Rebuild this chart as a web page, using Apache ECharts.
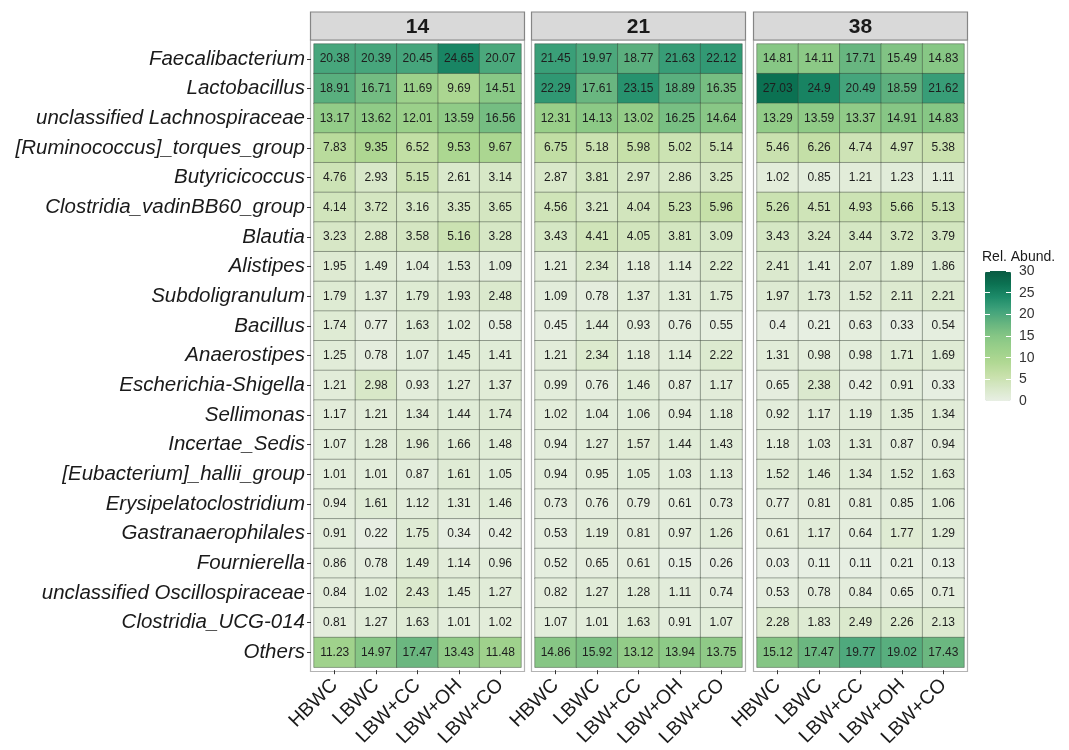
<!DOCTYPE html>
<html>
<head>
<meta charset="utf-8">
<script src="https://cdn.jsdelivr.net/npm/echarts@6/dist/echarts.min.js"></script>
<style>
  html, body { margin: 0; padding: 0; background: #fff; }
  #chart { width: 1069px; height: 750px; }
</style>
</head>
<body>
<div id="chart"></div>
<script>
const taxa = ['Faecalibacterium', 'Lactobacillus', 'unclassified Lachnospiraceae', '[Ruminococcus]_torques_group',
  'Butyricicoccus', 'Clostridia_vadinBB60_group', 'Blautia', 'Alistipes', 'Subdoligranulum', 'Bacillus',
  'Anaerostipes', 'Escherichia-Shigella', 'Sellimonas', 'Incertae_Sedis', '[Eubacterium]_hallii_group',
  'Erysipelatoclostridium', 'Gastranaerophilales', 'Fournierella', 'unclassified Oscillospiraceae',
  'Clostridia_UCG-014', 'Others'];
const groups = ['HBWC', 'LBWC', 'LBW+CC', 'LBW+OH', 'LBW+CO'];
const days = ['14', '21', '38'];
const legendTicks = [0, 5, 10, 15, 20, 25, 30];

// rows follow taxa, columns follow groups
const day14 = [
  [20.38, 20.39, 20.45, 24.65, 20.07],
  [18.91, 16.71, 11.69, 9.69, 14.51],
  [13.17, 13.62, 12.01, 13.59, 16.56],
  [7.83, 9.35, 6.52, 9.53, 9.67],
  [4.76, 2.93, 5.15, 2.61, 3.14],
  [4.14, 3.72, 3.16, 3.35, 3.65],
  [3.23, 2.88, 3.58, 5.16, 3.28],
  [1.95, 1.49, 1.04, 1.53, 1.09],
  [1.79, 1.37, 1.79, 1.93, 2.48],
  [1.74, 0.77, 1.63, 1.02, 0.58],
  [1.25, 0.78, 1.07, 1.45, 1.41],
  [1.21, 2.98, 0.93, 1.27, 1.37],
  [1.17, 1.21, 1.34, 1.44, 1.74],
  [1.07, 1.28, 1.96, 1.66, 1.48],
  [1.01, 1.01, 0.87, 1.61, 1.05],
  [0.94, 1.61, 1.12, 1.31, 1.46],
  [0.91, 0.22, 1.75, 0.34, 0.42],
  [0.86, 0.78, 1.49, 1.14, 0.96],
  [0.84, 1.02, 2.43, 1.45, 1.27],
  [0.81, 1.27, 1.63, 1.01, 1.02],
  [11.23, 14.97, 17.47, 13.43, 11.48]
];
const day21 = [
  [21.45, 19.97, 18.77, 21.63, 22.12],
  [22.29, 17.61, 23.15, 18.89, 16.35],
  [12.31, 14.13, 13.02, 16.25, 14.64],
  [6.75, 5.18, 5.98, 5.02, 5.14],
  [2.87, 3.81, 2.97, 2.86, 3.25],
  [4.56, 3.21, 4.04, 5.23, 5.96],
  [3.43, 4.41, 4.05, 3.81, 3.09],
  [1.21, 2.34, 1.18, 1.14, 2.22],
  [1.09, 0.78, 1.37, 1.31, 1.75],
  [0.45, 1.44, 0.93, 0.76, 0.55],
  [1.21, 2.34, 1.18, 1.14, 2.22],
  [0.99, 0.76, 1.46, 0.87, 1.17],
  [1.02, 1.04, 1.06, 0.94, 1.18],
  [0.94, 1.27, 1.57, 1.44, 1.43],
  [0.94, 0.95, 1.05, 1.03, 1.13],
  [0.73, 0.76, 0.79, 0.61, 0.73],
  [0.53, 1.19, 0.81, 0.97, 1.26],
  [0.52, 0.65, 0.61, 0.15, 0.26],
  [0.82, 1.27, 1.28, 1.11, 0.74],
  [1.07, 1.01, 1.63, 0.91, 1.07],
  [14.86, 15.92, 13.12, 13.94, 13.75]
];
const day38 = [
  [14.81, 14.11, 17.71, 15.49, 14.83],
  [27.03, 24.9, 20.49, 18.59, 21.62],
  [13.29, 13.59, 13.37, 14.91, 14.83],
  [5.46, 6.26, 4.74, 4.97, 5.38],
  [1.02, 0.85, 1.21, 1.23, 1.11],
  [5.26, 4.51, 4.93, 5.66, 5.13],
  [3.43, 3.24, 3.44, 3.72, 3.79],
  [2.41, 1.41, 2.07, 1.89, 1.86],
  [1.97, 1.73, 1.52, 2.11, 2.21],
  [0.4, 0.21, 0.63, 0.33, 0.54],
  [1.31, 0.98, 0.98, 1.71, 1.69],
  [0.65, 2.38, 0.42, 0.91, 0.33],
  [0.92, 1.17, 1.19, 1.35, 1.34],
  [1.18, 1.03, 1.31, 0.87, 0.94],
  [1.52, 1.46, 1.34, 1.52, 1.63],
  [0.77, 0.81, 0.81, 0.85, 1.06],
  [0.61, 1.17, 0.64, 1.77, 1.29],
  [0.03, 0.11, 0.11, 0.21, 0.13],
  [0.53, 0.78, 0.84, 0.65, 0.71],
  [2.28, 1.83, 2.49, 2.26, 2.13],
  [15.12, 17.47, 19.77, 19.02, 17.43]
];
const panels = [day14, day21, day38];

const FONT = '"Liberation Sans", Arial, sans-serif';
const panelLeft = [314, 535, 757];
const panelW = 207, plotTop = 44, plotH = 624, pad = 3;
const stripTop = 12, stripH = 28;
const bar = { left: 985, top: 271, width: 26, height: 130 };

const grids = panelLeft.map((l) => ({ left: l, top: plotTop, width: panelW, height: plotH }));
grids.push({ left: bar.left, top: bar.top, width: bar.width, height: bar.height });

const xAxes = panels.map((_, i) => ({
  type: 'category', gridIndex: i, data: groups, offset: pad,
  axisLine: { show: false },
  axisTick: { show: true, length: 4, alignWithLabel: true, lineStyle: { color: '#333' } },
  axisLabel: { rotate: 45, fontSize: 19.5, color: '#1a1a1a', fontFamily: FONT, margin: 12, interval: 0 },
  splitLine: { show: false }
}));
xAxes.push({ type: 'category', gridIndex: 3, show: false, data: ['a'] });

const yAxes = panels.map((_, i) => ({
  type: 'category', gridIndex: i, data: taxa, inverse: true, offset: pad,
  axisLine: { show: false },
  axisTick: { show: i === 0, length: 4, alignWithLabel: true, lineStyle: { color: '#333' } },
  axisLabel: { show: i === 0, fontSize: 20.5, fontStyle: 'italic', color: '#1a1a1a', fontFamily: FONT, margin: 6, interval: 0 },
  splitLine: { show: false }
}));
// colourbar scale
yAxes.push({
  type: 'value', gridIndex: 3, min: 0, max: 30, interval: 5, position: 'right', z: 10,
  axisLine: { show: false },
  axisTick: { show: true, inside: true, length: 5, lineStyle: { color: '#fff', width: 1 } },
  axisLabel: { fontSize: 14, color: '#333', fontFamily: FONT, margin: 8,
    formatter: (v) => (legendTicks.includes(v) ? String(v) : '') },
  splitLine: { show: false }
});
yAxes.push({
  type: 'value', gridIndex: 3, min: 0, max: 30, interval: 5, position: 'left', z: 10,
  axisLine: { show: false },
  axisTick: { show: true, inside: true, length: 5, lineStyle: { color: '#fff', width: 1 } },
  axisLabel: { show: false },
  splitLine: { show: false }
});

const series = panels.map((rows, i) => ({
  type: 'heatmap', xAxisIndex: i, yAxisIndex: i,
  data: rows.flatMap((r, yi) => r.map((v, xi) => [xi, yi, v])),
  itemStyle: { borderColor: 'rgba(50,60,50,0.6)', borderWidth: 0.7 },
  label: { show: true, fontSize: 12, color: '#1e1e1e', fontFamily: FONT, formatter: (p) => String(p.value[2]) },
  emphasis: { disabled: true }
}));

const graphic = [];
panelLeft.forEach((l, i) => {
  graphic.push({
    type: 'rect', z: -1, silent: true,
    shape: { x: l - pad - 0.5, y: stripTop + stripH, width: panelW + 2 * pad + 1, height: plotH + plotTop - stripTop - stripH + pad + 0.5 },
    style: { fill: '#fff', stroke: '#b3b3b3', lineWidth: 1.2 }
  });
  graphic.push({
    type: 'rect', silent: true,
    shape: { x: l - pad - 0.5, y: stripTop, width: panelW + 2 * pad + 1, height: stripH },
    style: { fill: '#d9d9d9', stroke: '#858585', lineWidth: 1.2 }
  });
  graphic.push({
    type: 'text', silent: true,
    style: { x: l + panelW / 2, y: stripTop + stripH / 2 + 1, text: days[i], fontSize: 21, fontWeight: 'bold',
      fontFamily: FONT, fill: '#1a1a1a', align: 'center', verticalAlign: 'middle' }
  });
});
graphic.push({
  type: 'text', silent: true,
  style: { x: bar.left - 3, y: bar.top - 7, text: 'Rel. Abund.', fontSize: 14, fontFamily: FONT,
    fill: '#1a1a1a', align: 'left', verticalAlign: 'bottom' }
});

const chart = echarts.init(document.getElementById('chart'), null, { renderer: 'canvas' });
chart.setOption({
  backgroundColor: '#fff',
  animation: false,
  grid: grids,
  xAxis: xAxes,
  yAxis: yAxes,
  visualMap: {
    type: 'continuous', min: 0, max: 30, seriesIndex: [0, 1, 2], calculable: false,
    left: bar.left, top: bar.top, itemWidth: bar.width, itemHeight: bar.height, padding: 0,
    text: null, showLabel: false, realtime: false, hoverLink: false,
    inRange: { color: ['#e8efe4', '#d8e8c8', '#c6e0a9', '#b0d893', '#9bd08a', '#86c685', '#65b47f', '#3fa27b', '#1d8b69', '#0b7152', '#0a5a42'] }
  },
  series: series,
  graphic: graphic
});
</script>
</body>
</html>
